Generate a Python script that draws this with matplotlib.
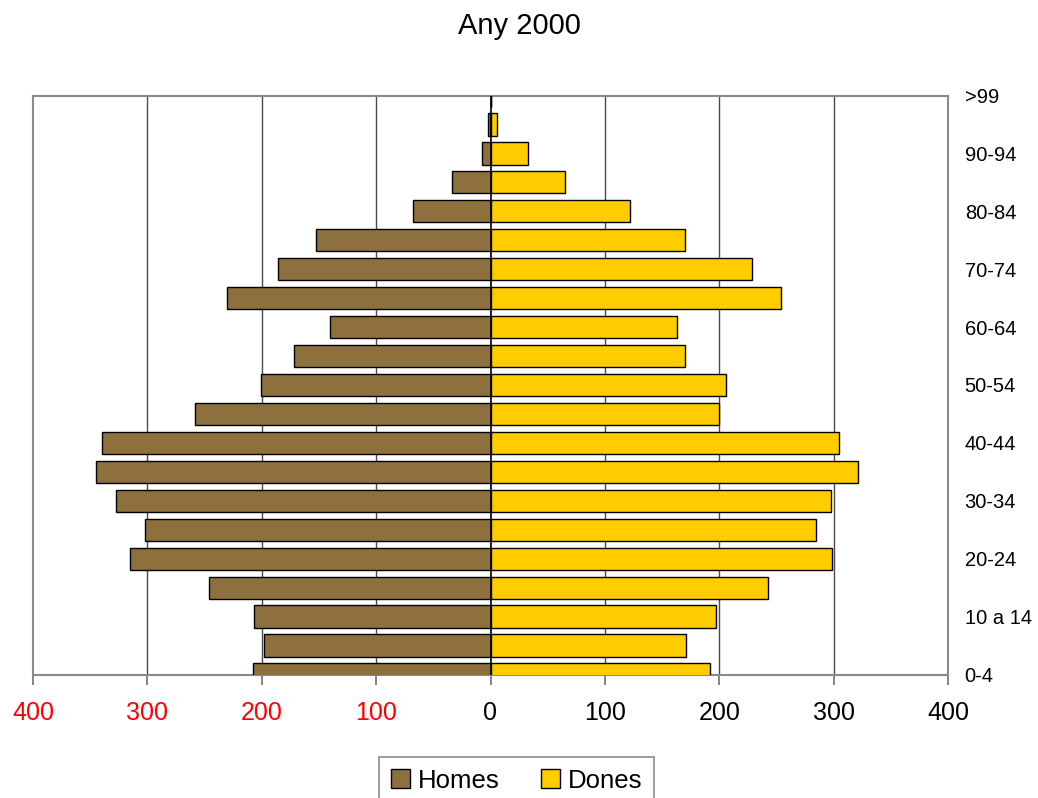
import matplotlib
matplotlib.use("Agg")
import matplotlib.pyplot as plt
import numpy as np

plt.rcParams['font.family'] = ['Liberation Sans', 'DejaVu Sans']

categories = ["0-4", "5-9", "10 a 14", "15-19", "20-24", "25-29", "30-34", "35-39",
              "40-44", "45-49", "50-54", "55-59", "60-64", "65-69", "70-74", "75-79",
              "80-84", "85-89", "90-94", "95-99", ">99"]
homes = [208, 198, 207, 246, 315, 302, 327, 345, 340, 258, 201, 172, 140, 230, 186, 153,
         68, 34, 7, 2.5, 0]
dones = [192, 171, 197, 243, 299, 285, 298, 321, 305, 200, 206, 170, 163, 254, 229, 170,
         122, 65, 33, 6, 0]
xticks = [-400, -300, -200, -100, 0, 100, 200, 300, 400]
title = "Any 2000"

fig = plt.figure(figsize=(10.38, 7.98), dpi=100)
ax = fig.add_axes([33/1038, 1-674.5/798, (948-33)/1038, (674.5-95.5)/798])

y = np.arange(len(categories))
h = 0.77
ax.barh(y, -np.array(homes), height=h, color="#8E703E", edgecolor="black", linewidth=1,
        label="Homes", zorder=3)
ax.barh(y, dones, height=h, color="#FFCC00", edgecolor="black", linewidth=1,
        label="Dones", zorder=3)

ax.set_xlim(-400, 400)
ax.set_ylim(0, len(categories) - 1)

for xv in xticks:
    if xv in (-400, 400):
        continue
    ax.axvline(xv, color="black" if xv == 0 else "#4a4a4a", lw=1.2 if xv == 0 else 1.0,
               zorder=4 if xv == 0 else 1)

ax.set_xticks(xticks)
ax.set_xticklabels([str(abs(v)) for v in xticks])
for lab, v in zip(ax.get_xticklabels(), xticks):
    lab.set_color("red" if v < 0 else "black")
ax.tick_params(axis="x", labelsize=18, length=7, width=1.2, color="#707070", pad=12)

ax.yaxis.tick_right()
ax.set_yticks(y[::2])
ax.set_yticklabels(categories[::2])
ax.tick_params(axis="y", labelsize=14.5, length=0, pad=12)

for s in ax.spines.values():
    s.set_color("#8a8a8a")
    s.set_linewidth(1.5)

fig.text(0.5, 1 - 26/798, title, ha="center", va="center", fontsize=21)

leg = fig.legend(loc="upper center", bbox_to_anchor=(516.5/1038, 1 - 757/798), ncol=2,
                 fontsize=18.5, frameon=True, fancybox=False, handlelength=0.75,
                 handleheight=0.75, handletextpad=0.3, columnspacing=1.6,
                 borderpad=0.45, borderaxespad=0)
leg.get_frame().set_edgecolor("#707070")
leg.get_frame().set_linewidth(1.2)

fig.savefig("out.png", dpi=100)
